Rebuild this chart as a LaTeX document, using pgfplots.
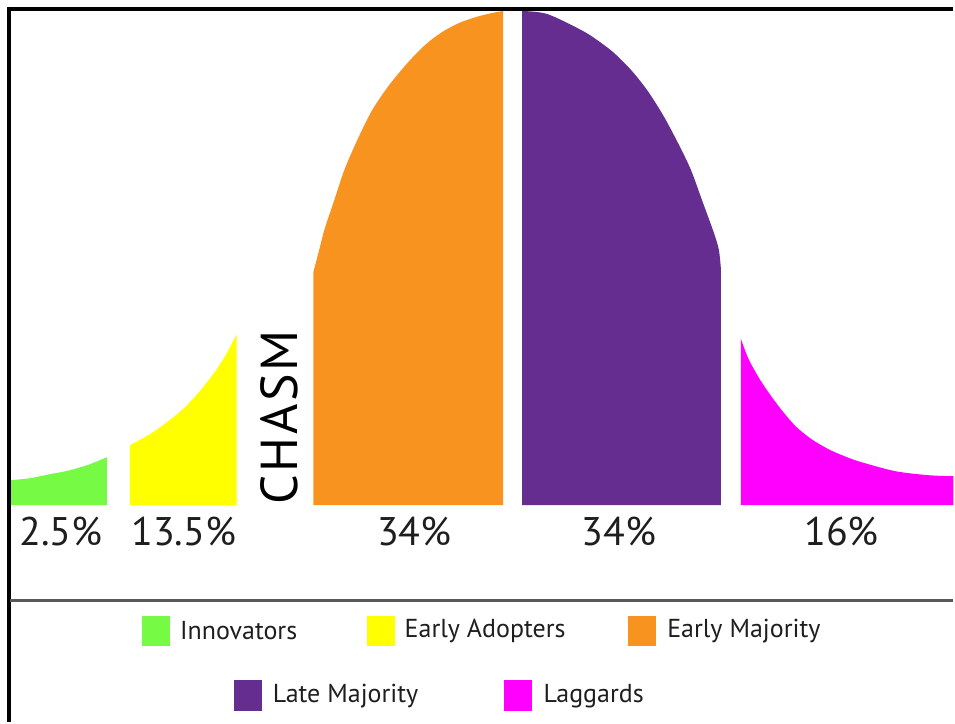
\documentclass[border=0pt]{standalone}
\usepackage{pgfplots}
\pgfplotsset{compat=1.18}
\usepgfplotslibrary{fillbetween}
\usepackage{fontspec}
\setmainfont{PT Sans}
\definecolor{cinn}{RGB}{118,250,68}
\definecolor{cea}{RGB}{255,255,0}
\definecolor{cem}{RGB}{247,147,30}
\definecolor{clm}{RGB}{102,45,145}
\definecolor{clag}{RGB}{255,0,255}
\definecolor{txt}{RGB}{30,30,30}
\begin{document}
\begin{tikzpicture}
\begin{axis}[
  x=0.5pt, y=0.5pt,
  xmin=0, xmax=955, ymin=0, ymax=723,
  y dir=reverse,
  hide axis, clip=false, no markers,
]
\path (axis cs:0,0) rectangle (axis cs:955,723);
% Innovators
\addplot[draw=none, smooth, name path=g1] coordinates {(11,481) (30,479) (50,475) (70,471) (90,465) (107,458)};
\addplot[draw=none, name path=g0] coordinates {(11,506) (107,506)};
\addplot[cinn] fill between[of=g1 and g0];
% Early adopters
\addplot[draw=none, smooth, name path=y1] coordinates {(130,446) (150,435) (167,423) (183,410) (200,392) (217,370) (227,354) (237,335)};
\addplot[draw=none, name path=y0] coordinates {(130,506) (237,506)};
\addplot[cea] fill between[of=y1 and y0];
% Early majority
\addplot[draw=none, smooth, name path=o1] coordinates {(314,272) (318,257) (325,230) (335,200) (345,170) (358,140) (373,110) (390,85) (410,61) (427,44) (443,32) (460,23) (477,17) (493,13) (504,11)};
\addplot[draw=none, name path=o0] coordinates {(314,506) (504,506)};
\addplot[cem] fill between[of=o1 and o0];
% Late majority
\addplot[draw=none, smooth, name path=p1] coordinates {(523,11) (548,14) (582,30) (598,40) (615,53) (632,70) (648,90) (664,115) (679,143) (692,170) (703,200) (715,233) (720,250) (722,268)};
\addplot[draw=none, name path=p0] coordinates {(523,506) (722,506)};
\addplot[clm] fill between[of=p1 and p0];
% Laggards
\addplot[draw=none, smooth, name path=m1] coordinates {(742,339) (750,360) (763,383) (780,407) (797,427) (813,440) (830,450) (846,457) (863,463) (897,472) (930,476) (955,477)};
\addplot[draw=none, name path=m0] coordinates {(742,506) (955,506)};
\addplot[clag] fill between[of=m1 and m0];
% frame
\addplot[black, line width=1.6pt] coordinates {(9,723) (9,9) (955,9)};
\addplot[black!65, line width=1.5pt] coordinates {(10,601) (955,601)};
% legend squares
\addplot[draw=none, fill=cinn] coordinates {(142,617) (170,617) (170,647) (142,647)} -- cycle;
\addplot[draw=none, fill=cea] coordinates {(368,617) (396,617) (396,647) (368,647)} -- cycle;
\addplot[draw=none, fill=cem] coordinates {(629,617) (657,617) (657,647) (629,647)} -- cycle;
\addplot[draw=none, fill=clm] coordinates {(234,681) (262,681) (262,712) (234,712)} -- cycle;
\addplot[draw=none, fill=clag] coordinates {(505,681) (533,681) (533,712) (505,712)} -- cycle;
% percent labels
\begin{scope}[every node/.style={text=txt, font=\fontsize{20}{24}\selectfont}]
\node at (axis cs:61,532) {2.5\%};
\node at (axis cs:184,532) {13.5\%};
\node at (axis cs:415,532) {34\%};
\node at (axis cs:620,532) {34\%};
\node at (axis cs:843,532) {16\%};
\end{scope}
\node[rotate=90, text=black, font=\fontsize{26}{30}\selectfont\addfontfeatures{LetterSpace=5}] at (axis cs:280,418) {CHASM};
% legend text
\begin{scope}[every node/.style={text=txt, anchor=west, inner sep=0pt, font=\fontsize{13}{16}\selectfont}]
\node at (axis cs:180,632) {Innovators};
\node at (axis cs:405,632) {Early Adopters};
\node at (axis cs:668,632) {Early Majority};
\node at (axis cs:273,697) {Late Majority};
\node at (axis cs:544,697) {Laggards};
\end{scope}
\end{axis}
\end{tikzpicture}
\end{document}
